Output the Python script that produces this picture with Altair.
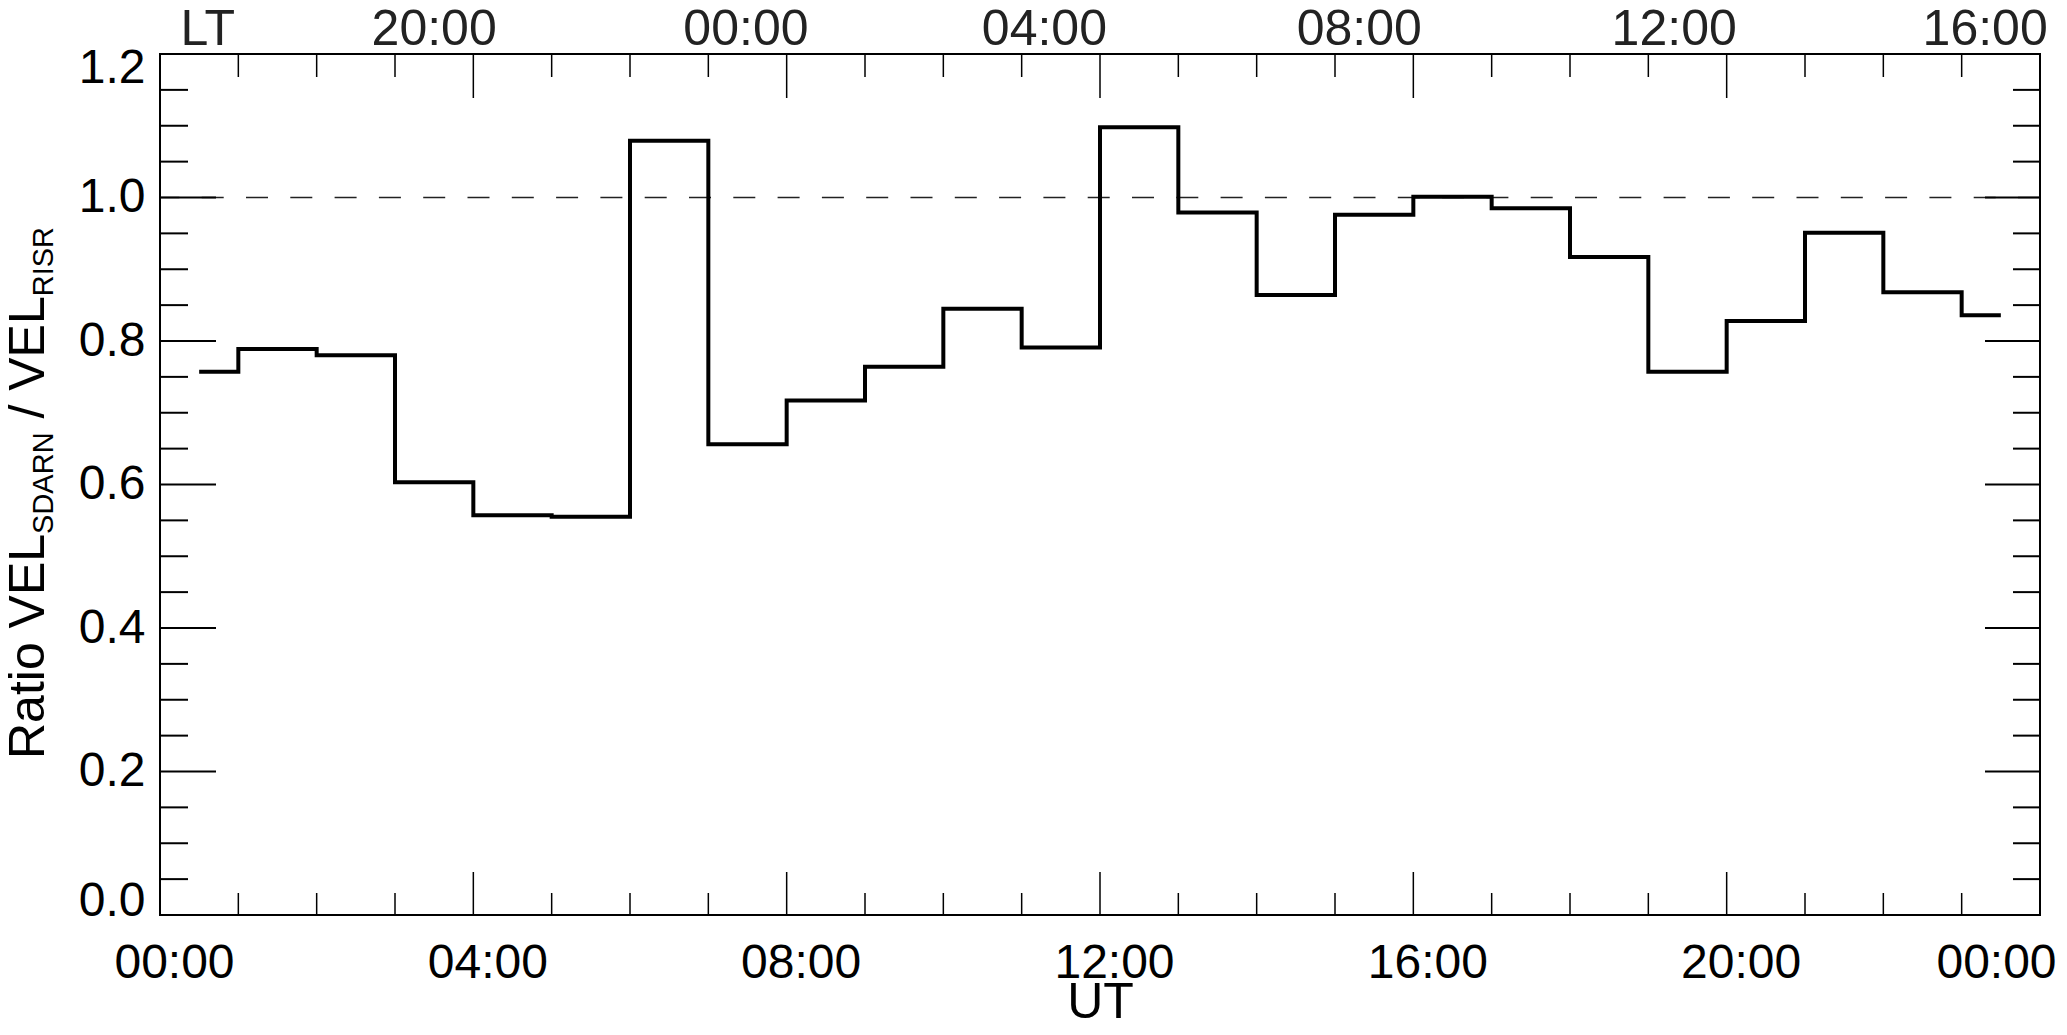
import altair as alt
import pandas as pd

# ---- data ----
hours = [0.5, 1.5, 2.5, 3.5, 4.5, 5.5, 6.5, 7.5, 8.5, 9.5, 10.5, 11.5,
         12.5, 13.5, 14.5, 15.5, 16.5, 17.5, 18.5, 19.5, 20.5, 21.5, 22.5, 23.5]
ratios = [0.757, 0.789, 0.780, 0.603, 0.557, 0.555, 1.079, 0.656, 0.717, 0.764, 0.845, 0.791,
          1.098, 0.979, 0.864, 0.976, 1.001, 0.985, 0.917, 0.757, 0.828, 0.951, 0.868, 0.836]
reference_level = [1.0]

ut_tick_values = [0, 4, 8, 12, 16, 20, 24]
ut_labels = ["00:00", "04:00", "08:00", "12:00", "16:00", "20:00", "00:00"]
x_minor_ticks = [1, 2, 3, 5, 6, 7, 9, 10, 11, 13, 14, 15, 17, 18, 19, 21, 22, 23]
x_major_ticks = [4, 8, 12, 16, 20]

lt_labels = ["LT", "20:00", "00:00", "04:00", "08:00", "12:00", "16:00"]
lt_positions = [0.61, 3.50, 7.48, 11.29, 15.31, 19.33, 23.30]

y_tick_values = [0.0, 0.2, 0.4, 0.6, 0.8, 1.0, 1.2]
y_minor_ticks = [0.05, 0.10, 0.15, 0.25, 0.30, 0.35, 0.45, 0.50, 0.55,
                 0.65, 0.70, 0.75, 0.85, 0.90, 0.95, 1.05, 1.10, 1.15]

title_pieces = [("Ratio VEL", "main"), ("SDARN", "sub"), (" / VEL", "main"), ("RISR", "sub")]

# ---- styling ----
FONT = "Liberation Sans"
W, H = 1880, 861
MAIN_FS, SUB_FS = 50, 29

xscale = alt.Scale(domain=[0, 24], nice=False, zero=False)
yscale = alt.Scale(domain=[0, 1.2], nice=False, zero=False)

label_expr = "[" + ",".join("'%s'" % s for s in ut_labels) + "][round(datum.value / 4)]"

xaxis = alt.Axis(values=ut_tick_values, labelExpr=label_expr, title="UT",
                 domain=False, ticks=False, grid=False, labelPadding=24,
                 labelOffset={"condition": {"test": "datum.value == 24", "value": -44}, "value": 14},
                 labelFontSize=48, labelFont=FONT, labelColor="black",
                 labelFlush=False, labelOverlap=False, labelBound=False,
                 titleFontSize=50, titleFont=FONT, titleFontWeight="normal",
                 titleColor="black", titlePadding=-10)
yaxis = alt.Axis(values=y_tick_values, format=".1f", title=None,
                 domain=False, ticks=False, grid=False, labelPadding=15,
                 labelFontSize=48, labelFont=FONT, labelColor="black",
                 labelFlush=True, labelFlushOffset=10, labelOverlap=False)

X = lambda: alt.X("hour:Q", scale=xscale, axis=xaxis)
Y = lambda: alt.Y("ratio:Q", scale=yscale, axis=yaxis)

df = pd.DataFrame({"hour": hours, "ratio": ratios})

line = alt.Chart(df).mark_line(interpolate="step", color="black", strokeWidth=4,
                               strokeJoin="miter").encode(x=X(), y=Y())

dashed = alt.Chart(pd.DataFrame({"ratio": reference_level})).mark_rule(
    color="#222", strokeWidth=1.5, strokeDash=[22, 22.3]).encode(y=Y())

layers = [dashed, line]

# tick marks pointing inward on all four sides
def xticks(vals, length, top):
    d = pd.DataFrame({"hour": vals})
    if top:
        enc = dict(y=alt.value(0), y2=alt.value(length))
    else:
        enc = dict(y=alt.value(H), y2=alt.value(H - length))
    return alt.Chart(d).mark_rule(color="black", strokeWidth=1.5).encode(x=X(), **enc)

def yticks(vals, length, right):
    d = pd.DataFrame({"ratio": vals})
    if right:
        enc = dict(x=alt.value(W), x2=alt.value(W - length))
    else:
        enc = dict(x=alt.value(0), x2=alt.value(length))
    return alt.Chart(d).mark_rule(color="black", strokeWidth=2).encode(y=Y(), **enc)

layers += [xticks(x_major_ticks, 43, False), xticks(x_minor_ticks, 22, False),
           xticks(x_major_ticks, 44, True), xticks(x_minor_ticks, 23, True),
           yticks(y_tick_values, 56, False), yticks(y_minor_ticks, 28, False),
           yticks(y_tick_values, 55, True), yticks(y_minor_ticks, 27, True)]

# top LT labels
lt = alt.Chart(pd.DataFrame({"hour": lt_positions, "lab": lt_labels})).mark_text(
    font=FONT, fontSize=50, color="#222", baseline="alphabetic", align="center"
).encode(x=X(), y=alt.value(-9), text="lab:N")
layers.append(lt)

# rotated y title with subscripts (Arial-metric advance widths)
ADV = {'R': 0.722, 'a': 0.556, 't': 0.278, 'i': 0.222, 'o': 0.556, ' ': 0.278,
       'V': 0.667, 'E': 0.667, 'L': 0.556, 'S': 0.667, 'D': 0.722, 'A': 0.667,
       'N': 0.722, '/': 0.278, 'I': 0.278}
sizes = {"main": MAIN_FS, "sub": SUB_FS}
base_x = {"main": -116, "sub": -107}
total = sum(sum(ADV[c] for c in t) * sizes[k] for t, k in title_pieces)
cursor = H / 2 + 8.5 + total / 2
for txt, kind in title_pieces:
    fs = sizes[kind]
    lead = len(txt) - len(txt.lstrip(" "))
    cursor -= lead * ADV[' '] * fs
    s = txt.strip()
    layers.append(
        alt.Chart(pd.DataFrame({"t": [s]})).mark_text(
            font=FONT, fontSize=fs, color="black", angle=270,
            align="left", baseline="alphabetic"
        ).encode(x=alt.value(base_x[kind]), y=alt.value(cursor), text="t:N")
    )
    cursor -= sum(ADV[c] for c in s) * fs

chart = alt.layer(*layers).properties(
    width=W, height=H,
    autosize=alt.AutoSizeParams(type="none"),
    padding={"left": 152, "top": 46, "right": 19, "bottom": 110},
).configure_view(stroke="black", strokeWidth=2)

chart.save("out.html", embed_options={"renderer": "svg", "actions": False})
